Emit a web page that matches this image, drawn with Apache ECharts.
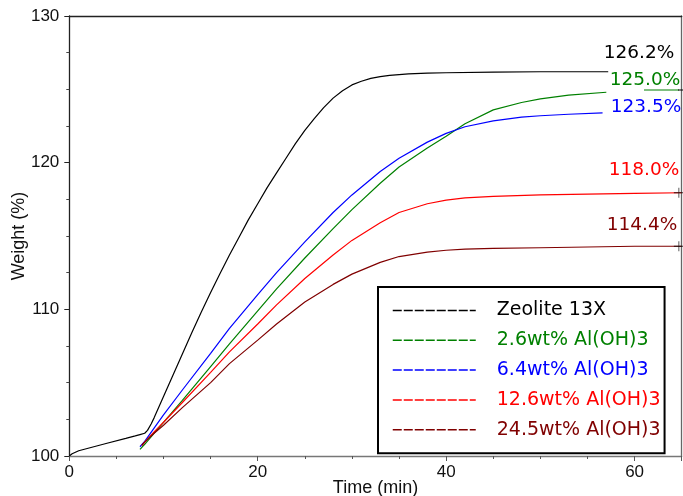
<!DOCTYPE html>
<html><head><meta charset="utf-8">
<script src="https://cdn.jsdelivr.net/npm/echarts@6/dist/echarts.min.js"></script>
<style>html,body{margin:0;padding:0;background:#fff}#c{width:683px;height:496px}</style>
</head><body><div id="c"></div>
<script>
const seriesNames = ['Zeolite 13X','2.6wt% Al(OH)3','6.4wt% Al(OH)3','12.6wt% Al(OH)3','24.5wt% Al(OH)3'];
const seriesColors = ['#000000','#008000','#0000ff','#ff0000','#800000'];

const tZeolite = [0,0.3,1,2,4,6,7,7.5,8,8.3,8.7,9,10,11,12,13,14,15,16,17,18,19,20,21,22,23,24,25,26,27,28,29,30,31,32,33,34,36,38,40,45,50,57.2];
const wZeolite = [100,100.15,100.36,100.53,100.87,101.2,101.37,101.46,101.55,101.75,102.2,102.6,104.05,105.5,106.95,108.4,109.8,111.15,112.45,113.7,114.9,116.1,117.2,118.3,119.3,120.3,121.3,122.2,123.0,123.75,124.4,124.9,125.3,125.55,125.75,125.87,125.95,126.05,126.1,126.13,126.17,126.2,126.2];

const tA26 = [7.5,8,9,10,12,15,17,20,22,25,28,30,33,35,38,40,42,45,48,50,53,57];
const wA26 = [100.45,100.8,101.55,102.3,103.8,106.1,107.65,109.9,111.4,113.5,115.5,116.8,118.6,119.7,121.0,121.8,122.65,123.6,124.1,124.35,124.6,124.8];

const tA64 = [7.5,8,9,10,12,15,17,20,22,25,28,30,33,35,38,40,42,45,48,50,53,56.6];
const wA64 = [100.63,101.0,101.9,102.8,104.5,107.0,108.7,111.0,112.5,114.6,116.6,117.8,119.4,120.3,121.4,122.0,122.45,122.85,123.1,123.2,123.3,123.4];

const tA126 = [7.7,8,9,10,12,15,17,20,22,25,28,30,33,35,38,40,42,45,50,55,60,65];
const wA126 = [100.7,100.95,101.65,102.3,103.65,105.7,107.1,109.0,110.3,112.1,113.7,114.7,115.9,116.6,117.2,117.45,117.6,117.7,117.8,117.85,117.9,117.95];

const tA245 = [7.7,8,9,10,12,15,17,20,22,25,28,30,33,35,38,40,42,45,50,55,60,65];
const wA245 = [100.75,100.95,101.55,102.1,103.3,105.0,106.3,107.9,109.0,110.5,111.7,112.4,113.2,113.6,113.9,114.03,114.1,114.15,114.2,114.25,114.3,114.3];

const endLabels = ['126.2%','125.0%','123.5%','118.0%','114.4%'];

const xTicks = [0,20,40,60];
const yTicks = [100,110,120,130];

const tArrays = [tZeolite,tA26,tA64,tA126,tA245];
const wArrays = [wZeolite,wA26,wA64,wA126,wA245];

const chart = echarts.init(document.getElementById('c'), null, {renderer:'canvas'});
const tickFont = {fontFamily:'Liberation Sans, Arial, sans-serif', fontSize:17, color:'#111'};
const textFont = 'DejaVu Sans, sans-serif';

const series = seriesNames.map((n,i)=>({
  name:n, type:'line', symbol:'none', showSymbol:false, smooth:false,
  xAxisIndex:0, yAxisIndex:0,
  data: tArrays[i].map((t,k)=>[t,wArrays[i][k]]),
  lineStyle:{color:seriesColors[i], width:1.2},
  itemStyle:{color:seriesColors[i]},
  z:3
}));
series.push({
  type:'scatter', xAxisIndex:0, yAxisIndex:0, silent:true,
  symbol:'path://M0,4.6h10v0.8h-10zM4.6,0h0.8v10h-0.8z', symbolSize:10,
  itemStyle:{color:'#000'},
  data:[[tA126[tA126.length-1]-0.3, wA126[wA126.length-1]],[tA245[tA245.length-1]-0.3, wA245[wA245.length-1]]],
  z:4
});

const labelPos = [[639,53.5],[645,80],[646,107.5],[644,170],[642,225.5]];
const graphic = endLabels.map((s,i)=>({
  type:'text', x:labelPos[i][0], y:labelPos[i][1],
  style:{text:s, fill:seriesColors[i], font:'18.5px '+textFont, textAlign:'center', textVerticalAlign:'middle'},
  z:10
}));
graphic.push({type:'line', shape:{x1:644,y1:90,x2:679,y2:90}, style:{stroke:'#008000', lineWidth:1.2}, z:10});
graphic.push({type:'line', shape:{x1:678,y1:90,x2:683,y2:90}, style:{stroke:'#000', lineWidth:1}, z:10});

chart.setOption({
  animation:false,
  backgroundColor:'#fff',
  grid:{left:69.3, right:1.3, top:16, bottom:40, containLabel:false, outerBoundsMode:'none'},
  legend:{
    left:378, top:287, orient:'vertical',
    data: seriesNames.map((n,i)=>({name:n, textStyle:{color:seriesColors[i]}})),
    itemWidth:83, itemHeight:14, itemGap:10.8,
    padding:[14,4,14,14],
    backgroundColor:'#fff', borderColor:'#000', borderWidth:2, borderRadius:0,
    textStyle:{fontFamily:textFont, fontSize:19, padding:[0,0,0,16]},
    itemStyle:{opacity:0},
    lineStyle:{type:[9,2], width:1.5},
    selectedMode:false
  },
  xAxis:[{
    type:'value', min:0, max:65, interval:20,
    name:'Time (min)', nameLocation:'middle', nameGap:23, nameMoveOverlap:false,
    nameTextStyle:{fontFamily:'Liberation Sans, Arial, sans-serif', fontSize:18, color:'#111'},
    axisLine:{lineStyle:{color:'#777', width:1.3}},
    axisTick:{show:true, inside:false, length:5, lineStyle:{color:'#555'}},
    minorTick:{show:true, splitNumber:4, length:3, lineStyle:{color:'#555'}},
    splitLine:{show:false},
    axisLabel:{...tickFont, margin:8, showMaxLabel:false,
      formatter:v=> xTicks.includes(v)? String(v):''}
  },{
    type:'value', min:0, max:65, position:'top',
    axisLine:{show:true, onZero:false, lineStyle:{color:'#222', width:1.3}},
    axisTick:{show:false}, axisLabel:{show:false}, splitLine:{show:false}
  }],
  yAxis:[{
    type:'value', min:100, max:130, interval:10,
    name:'Weight (%)', nameLocation:'middle', nameGap:41, nameMoveOverlap:false,
    nameTextStyle:{fontFamily:'Liberation Sans, Arial, sans-serif', fontSize:18, color:'#111'},
    axisLine:{show:true, lineStyle:{color:'#222', width:1.3}},
    axisTick:{show:true, inside:false, length:5, lineStyle:{color:'#222'}},
    minorTick:{show:true, splitNumber:4, length:3, lineStyle:{color:'#444'}},
    splitLine:{show:false},
    axisLabel:{...tickFont, margin:10, formatter:v=> yTicks.includes(v)? String(v):''}
  },{
    type:'value', min:100, max:130, position:'right',
    axisLine:{show:true, onZero:false, lineStyle:{color:'#666', width:1.3}},
    axisTick:{show:false}, axisLabel:{show:false}, splitLine:{show:false}
  }],
  series: series,
  graphic: graphic
});
</script></body></html>
